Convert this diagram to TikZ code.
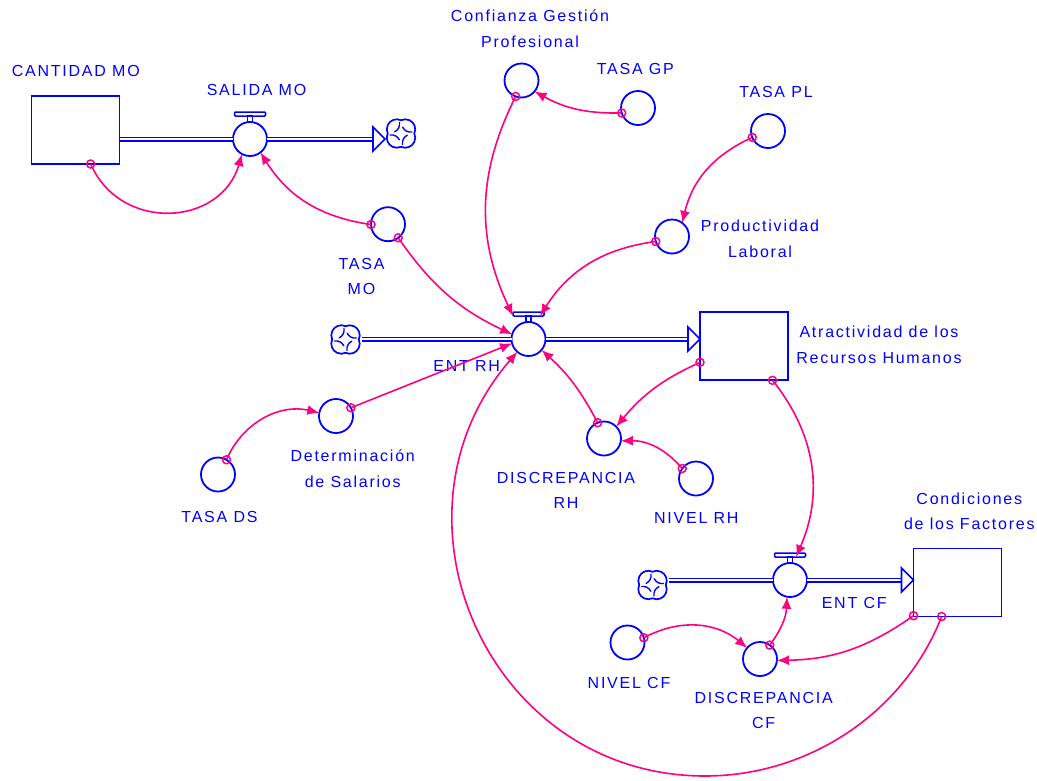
\documentclass[tikz,border=0pt]{standalone}
\usepackage{fontspec}
\setmainfont{Liberation Sans}[LetterSpace=11]
\usetikzlibrary{arrows.meta,calc}

\definecolor{vblue}{RGB}{0,0,255}
\definecolor{vpink}{RGB}{255,0,128}

\begin{document}
\begin{tikzpicture}[x=1pt,y=1pt,
  stock/.style={draw=vblue, line width=1.8pt, minimum width=88pt, minimum height=68pt, inner sep=0pt, outer sep=0pt},
  aux/.style={circle, draw=vblue, line width=1.8pt, minimum size=34pt, inner sep=0pt, outer sep=0pt},
  vbar/.style={draw=vblue, line width=1.5pt, minimum width=31pt, minimum height=4pt, inner sep=0pt, outer sep=0pt, rounded corners=1pt},
  vstem/.style={draw=vblue, line width=1.4pt, minimum width=5pt, minimum height=6pt, inner sep=0pt, outer sep=0pt},
  pipe/.style={draw=vblue, line width=1.4pt, double=white, double distance=2.2pt},
  flowhead/.style={draw=vblue, fill=white, line width=1.6pt, line join=miter},
  sink/.style={circle, minimum size=32pt, inner sep=0pt, outer sep=0pt},
  cloudline/.style={draw=vblue, line width=1.7pt, line cap=round},
  lbl/.style={text=vblue, font=\fontsize{16}{25.5}\selectfont, align=center, inner sep=0pt},
  link/.style={draw=vpink, line width=1.6pt, -{Latex[length=12pt,width=10pt]}},
  orig/.style={circle, draw=vpink, line width=1.5pt, minimum size=8pt, inner sep=0pt}
]
\useasboundingbox (0,0) rectangle (1037,-780);

% stocks
\node[stock] (cmo) at (75.5,-130) {};
\node[stock] (arh) at (744,-346.3) {};
\node[stock] (ccf) at (957.5,-582.5) {};

% valves
\node[aux] (salida) at (250,-139) {};
\node[vbar] (salidab) at ([yshift=25pt]salida.center) {};
\node[vstem, anchor=north] (salidas) at (salidab.south) {};
\node[aux] (entrh) at (528.5,-339) {};
\node[vbar] (entrhb) at ([yshift=25pt]entrh.center) {};
\node[vstem, anchor=north] (entrhs) at (entrhb.south) {};
\node[aux] (entcf) at (790,-580) {};
\node[vbar] (entcfb) at ([yshift=25pt]entcf.center) {};
\node[vstem, anchor=north] (entcfs) at (entcfb.south) {};

% auxiliaries
\node[aux] (tasamo) at (388,-224.2) {};
\node[aux] (conf) at (521.5,-80.5) {};
\node[aux] (tasagp) at (638,-108) {};
\node[aux] (tasapl) at (768,-131) {};
\node[aux] (prod) at (672,-236.5) {};
\node[aux] (discrh) at (604,-438.5) {};
\node[aux] (nivelrh) at (696,-478.5) {};
\node[aux] (detsal) at (336,-416) {};
\node[aux] (tasads) at (218,-474.5) {};
\node[aux] (nivelcf) at (627.5,-642.5) {};
\node[aux] (disccf) at (760,-659) {};

% sources and sinks: four-lobed cloud with inner swirl strokes
\node[sink] (cl1) at (401,-133.5) {};
\node[sink] (cl2) at (345.5,-339.5) {};
\node[sink] (cl3) at (652.5,-585) {};
\foreach \c in {cl1,cl2,cl3}{
  \begin{scope}[shift={(\c.center)}]
    \draw[cloudline, fill=white] (13.3,0)
      arc[start angle=-25, end angle=115, radius=10]
      arc[start angle=65, end angle=205, radius=10]
      arc[start angle=155, end angle=295, radius=10]
      arc[start angle=245, end angle=385, radius=10] -- cycle;
    \foreach \b in {0,90,180,270}
      \draw[cloudline, line width=1.4pt] (\b+8:11) to[bend left=35] (\b+75:6.5);
  \end{scope}
}

% flow pipes
\draw[pipe] (cmo.east |- salida) -- (salida.west);
\draw[pipe] (salida.east) -- ($(cl1.west |- salida)+(-12,0)$);
\draw[flowhead] (cl1.west |- salida) -- ++(-12,12) -- ++(0,-24) -- cycle;
\draw[pipe] (cl2.east |- entrh) -- (entrh.west);
\draw[pipe] (entrh.east) -- ($(arh.west |- entrh)+(-12,0)$);
\draw[flowhead] (arh.west |- entrh) -- ++(-12,12) -- ++(0,-24) -- cycle;
\draw[pipe] (cl3.east |- entcf) -- (entcf.west);
\draw[pipe] (entcf.east) -- ($(ccf.west |- entcf)+(-12,0)$);
\draw[flowhead] (ccf.west |- entcf) -- ++(-12,12) -- ++(0,-24) -- cycle;

% labels
\node[lbl] (lcmo) at (75.8,-70.8) {CANTIDAD MO};
\node[lbl] (lsalida) at (256.5,-90.3) {SALIDA MO};
\node[lbl] (ltasamo) at (361.5,-276.6) {TASA\\MO};
\node[lbl] (lconf) at (530,-28.8) {Confianza Gestión\\Profesional};
\node[lbl] (ltasagp) at (635.3,-69.3) {TASA GP};
\node[lbl] (ltasapl) at (776,-91.7) {TASA PL};
\node[lbl] (lprod) at (760,-238.8) {Productividad\\Laboral};
\node[lbl] (larh) at (879,-344.7) {Atractividad de los\\Recursos Humanos};
\node[lbl] (lentrh) at (466.7,-366) {ENT RH};
\node[lbl] (ldetsal) at (352.7,-468.8) {Determinación\\de Salarios};
\node[lbl] (ltasads) at (219.5,-517) {TASA DS};
\node[lbl] (ldiscrh) at (566,-490.5) {DISCREPANCIA\\RH};
\node[lbl] (lnivelrh) at (696.3,-518.3) {NIVEL RH};
\node[lbl] (lccf) at (969.3,-511.2) {Condiciones\\de los Factores};
\node[lbl] (lentcf) at (854.2,-603.3) {ENT CF};
\node[lbl] (lnivelcf) at (629,-683) {NIVEL CF};
\node[lbl] (ldisccf) at (763.7,-710.5) {DISCREPANCIA\\CF};

% information links
\draw[link] (cmo.-66) to[bend right=70, looseness=1.27] (salida.-118);
\draw[link] (tasamo.181) to[bend left=25] (salida.-52);
\draw[link] (tasamo.-53) to[bend right=15] (entrh.164);
\draw[link] (tasagp.197) to[bend left=15] (conf.-40);
\draw[link] (conf.-110) to[bend right=26] (entrhb.south west);
\draw[link] (tasapl.202) to[bend right=26] (prod.53);
\draw[link] (prod.197) to[bend right=25] ([xshift=-4pt]entrhb.south east);
\draw[link] (arh.-160.7) to[bend right=13] (discrh.44.5);
\draw[link] (nivelrh.144) to[bend right=25] (discrh.-8);
\draw[link] (discrh.112.6) to[bend right=10] (entrh.-40);
\draw[link] (detsal.29) -- (entrh.195);
\draw[link] (tasads.60) to[bend left=40] (detsal.169);
% long feedback arc, passing through its lowest point
\coordinate (loopbot) at (705,-776);
\draw[link] (ccf.-115.6) to[out=-111.35, in=0, looseness=0.93] (loopbot)
  to[out=180, in=229.2, looseness=1.2] (entrh.229.2);
\draw[link] (arh.-50.7) to[bend left=31] ([xshift=6pt]entcfb.south);
\draw[link] (nivelcf.16.5) to[bend left=34] (disccf.139);
\draw[link] (disccf.55.7) to[bend right=17] (entcf.-100);
\draw[link] (ccf.-143) to[bend left=17] (disccf.-5.7);

% link origins
\node[orig] (o1) at (cmo.-66) {};
\node[orig] (o2) at (tasamo.181) {};
\node[orig] (o3) at (tasamo.-53) {};
\node[orig] (o4) at (tasagp.197) {};
\node[orig] (o5) at (conf.-110) {};
\node[orig] (o6) at (tasapl.202) {};
\node[orig] (o7) at (prod.197) {};
\node[orig] (o8) at (arh.-160.7) {};
\node[orig] (o9) at (nivelrh.144) {};
\node[orig] (o10) at (discrh.112.6) {};
\node[orig] (o11) at (detsal.29) {};
\node[orig] (o12) at (tasads.60) {};
\node[orig] (o13) at (ccf.-115.6) {};
\node[orig] (o14) at (arh.-50.7) {};
\node[orig] (o15) at (nivelcf.16.5) {};
\node[orig] (o16) at (disccf.55.7) {};
\node[orig] (o17) at (ccf.-143) {};
\end{tikzpicture}
\end{document}
